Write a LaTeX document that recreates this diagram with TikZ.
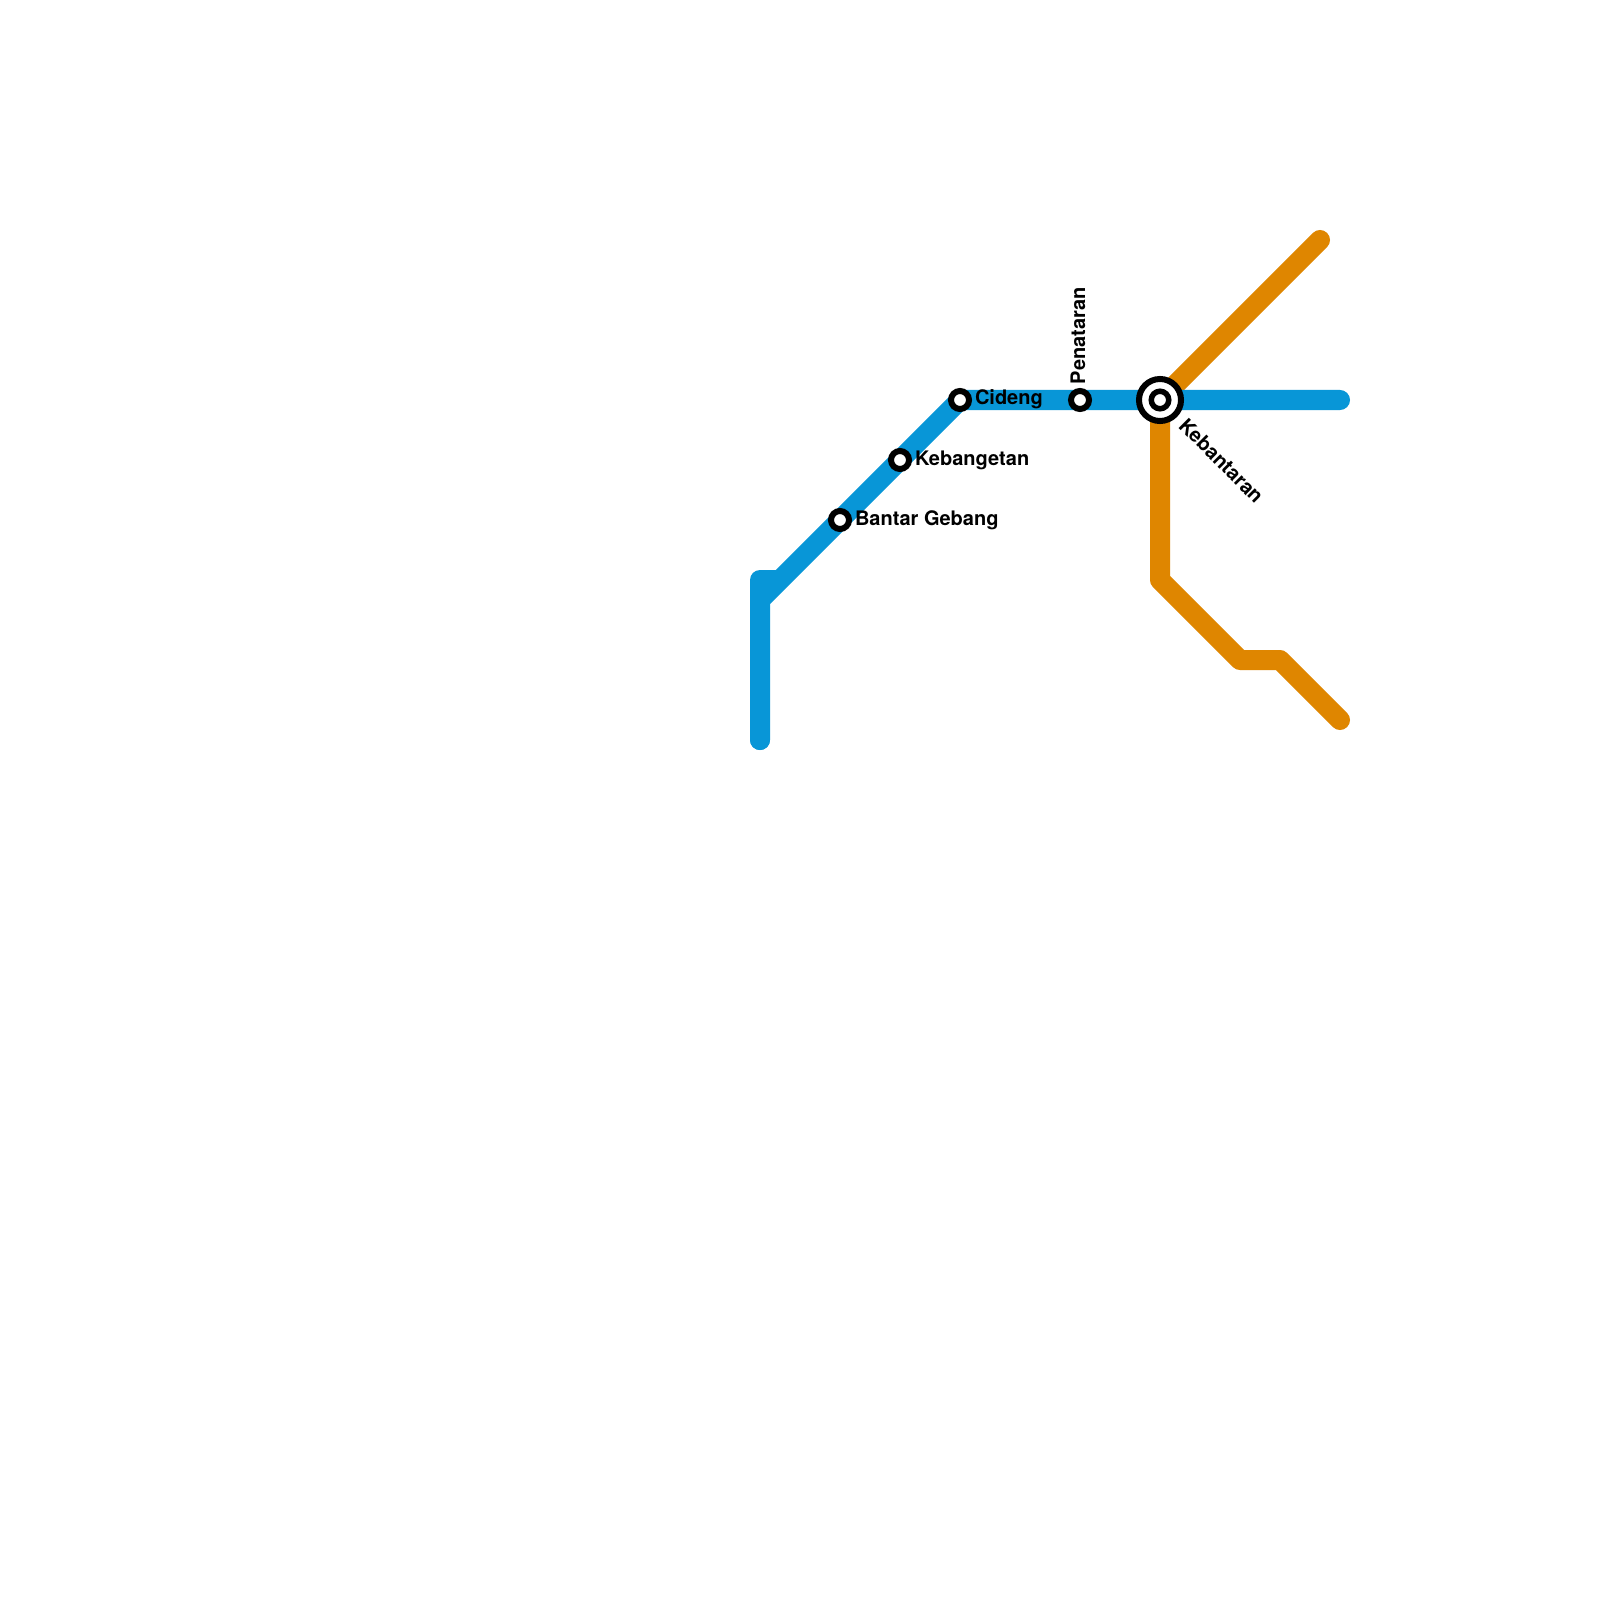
\documentclass[tikz,border=0pt]{standalone}
\usepackage{fontspec}
\setmainfont{TeX Gyre Heros}
\definecolor{lineblue}{HTML}{0896D7}
\definecolor{lineorange}{HTML}{DF8600}
\tikzset{
  x=0.01cm,y=-0.01cm,
  metro/.style={line width=0.2cm,line cap=round,line join=round},
  halt/.style={circle,draw=black,fill=white,line width=0.06cm,minimum size=0.18cm,inner sep=0pt,outer sep=0pt},
  hubring/.style={circle,draw=black,fill=white,line width=0.06cm,minimum size=0.42cm,inner sep=0pt,outer sep=0pt},
  hubcore/.style={circle,draw=black,fill=white,line width=0.055cm,minimum size=0.175cm,inner sep=0pt,outer sep=0pt},
  lbl/.style={font=\fontsize{5.69pt}{6.5pt}\selectfont\bfseries,text=black,inner sep=0pt,outer sep=0pt},
}
\begin{document}
\begin{tikzpicture}
\useasboundingbox (0,0) rectangle (1600,1600);
\fill[white] (0,0) rectangle (1600,1600);
% waypoints
\coordinate (b0) at (760,740);
\coordinate (b1) at (760,580);
\coordinate (b2) at (775,580);
\coordinate (b3) at (760,600);
\coordinate (b4) at (960,400);
\coordinate (b5) at (1340,400);
\coordinate (hubc) at (1160,400);
\coordinate (o0) at (1320,240);
\coordinate (o1) at (1160,580);
\coordinate (o2) at (1240,660);
\coordinate (o3) at (1280,660);
\coordinate (o4) at (1340,720);
% lines
\draw[metro,lineorange] (o0) -- (hubc) -- (o1) -- (o2) -- (o3) -- (o4);
\draw[metro,lineblue] (b0) -- (b1) -- (b2);
\draw[metro,lineblue] (b0) -- (b3) -- (b4) -- (b5);
% stations
\node[halt] (bantar) at (840,520) {};
\node[halt] (kebangetan) at (900,460) {};
\node[halt] (cideng) at (960,400) {};
\node[halt] (penataran) at (1080,400) {};
\node[hubring] (hubouter) at (hubc) {};
\node[hubcore] (kebantaran) at (hubc) {};
% labels
\node[lbl,anchor=base west] (lbantar) at (855,525) {Bantar Gebang};
\node[lbl,anchor=base west] (lkebangetan) at (915,465) {Kebangetan};
\node[lbl,anchor=base west] (lcideng) at (975,404) {Cideng};
\node[lbl,anchor=base west,rotate=90] (lpenataran) at (1085,384) {Penataran};
\node[lbl,anchor=base west,rotate=-45] (lkebantaran) at (1177.5,427) {Kebantaran};
\end{tikzpicture}
\end{document}
